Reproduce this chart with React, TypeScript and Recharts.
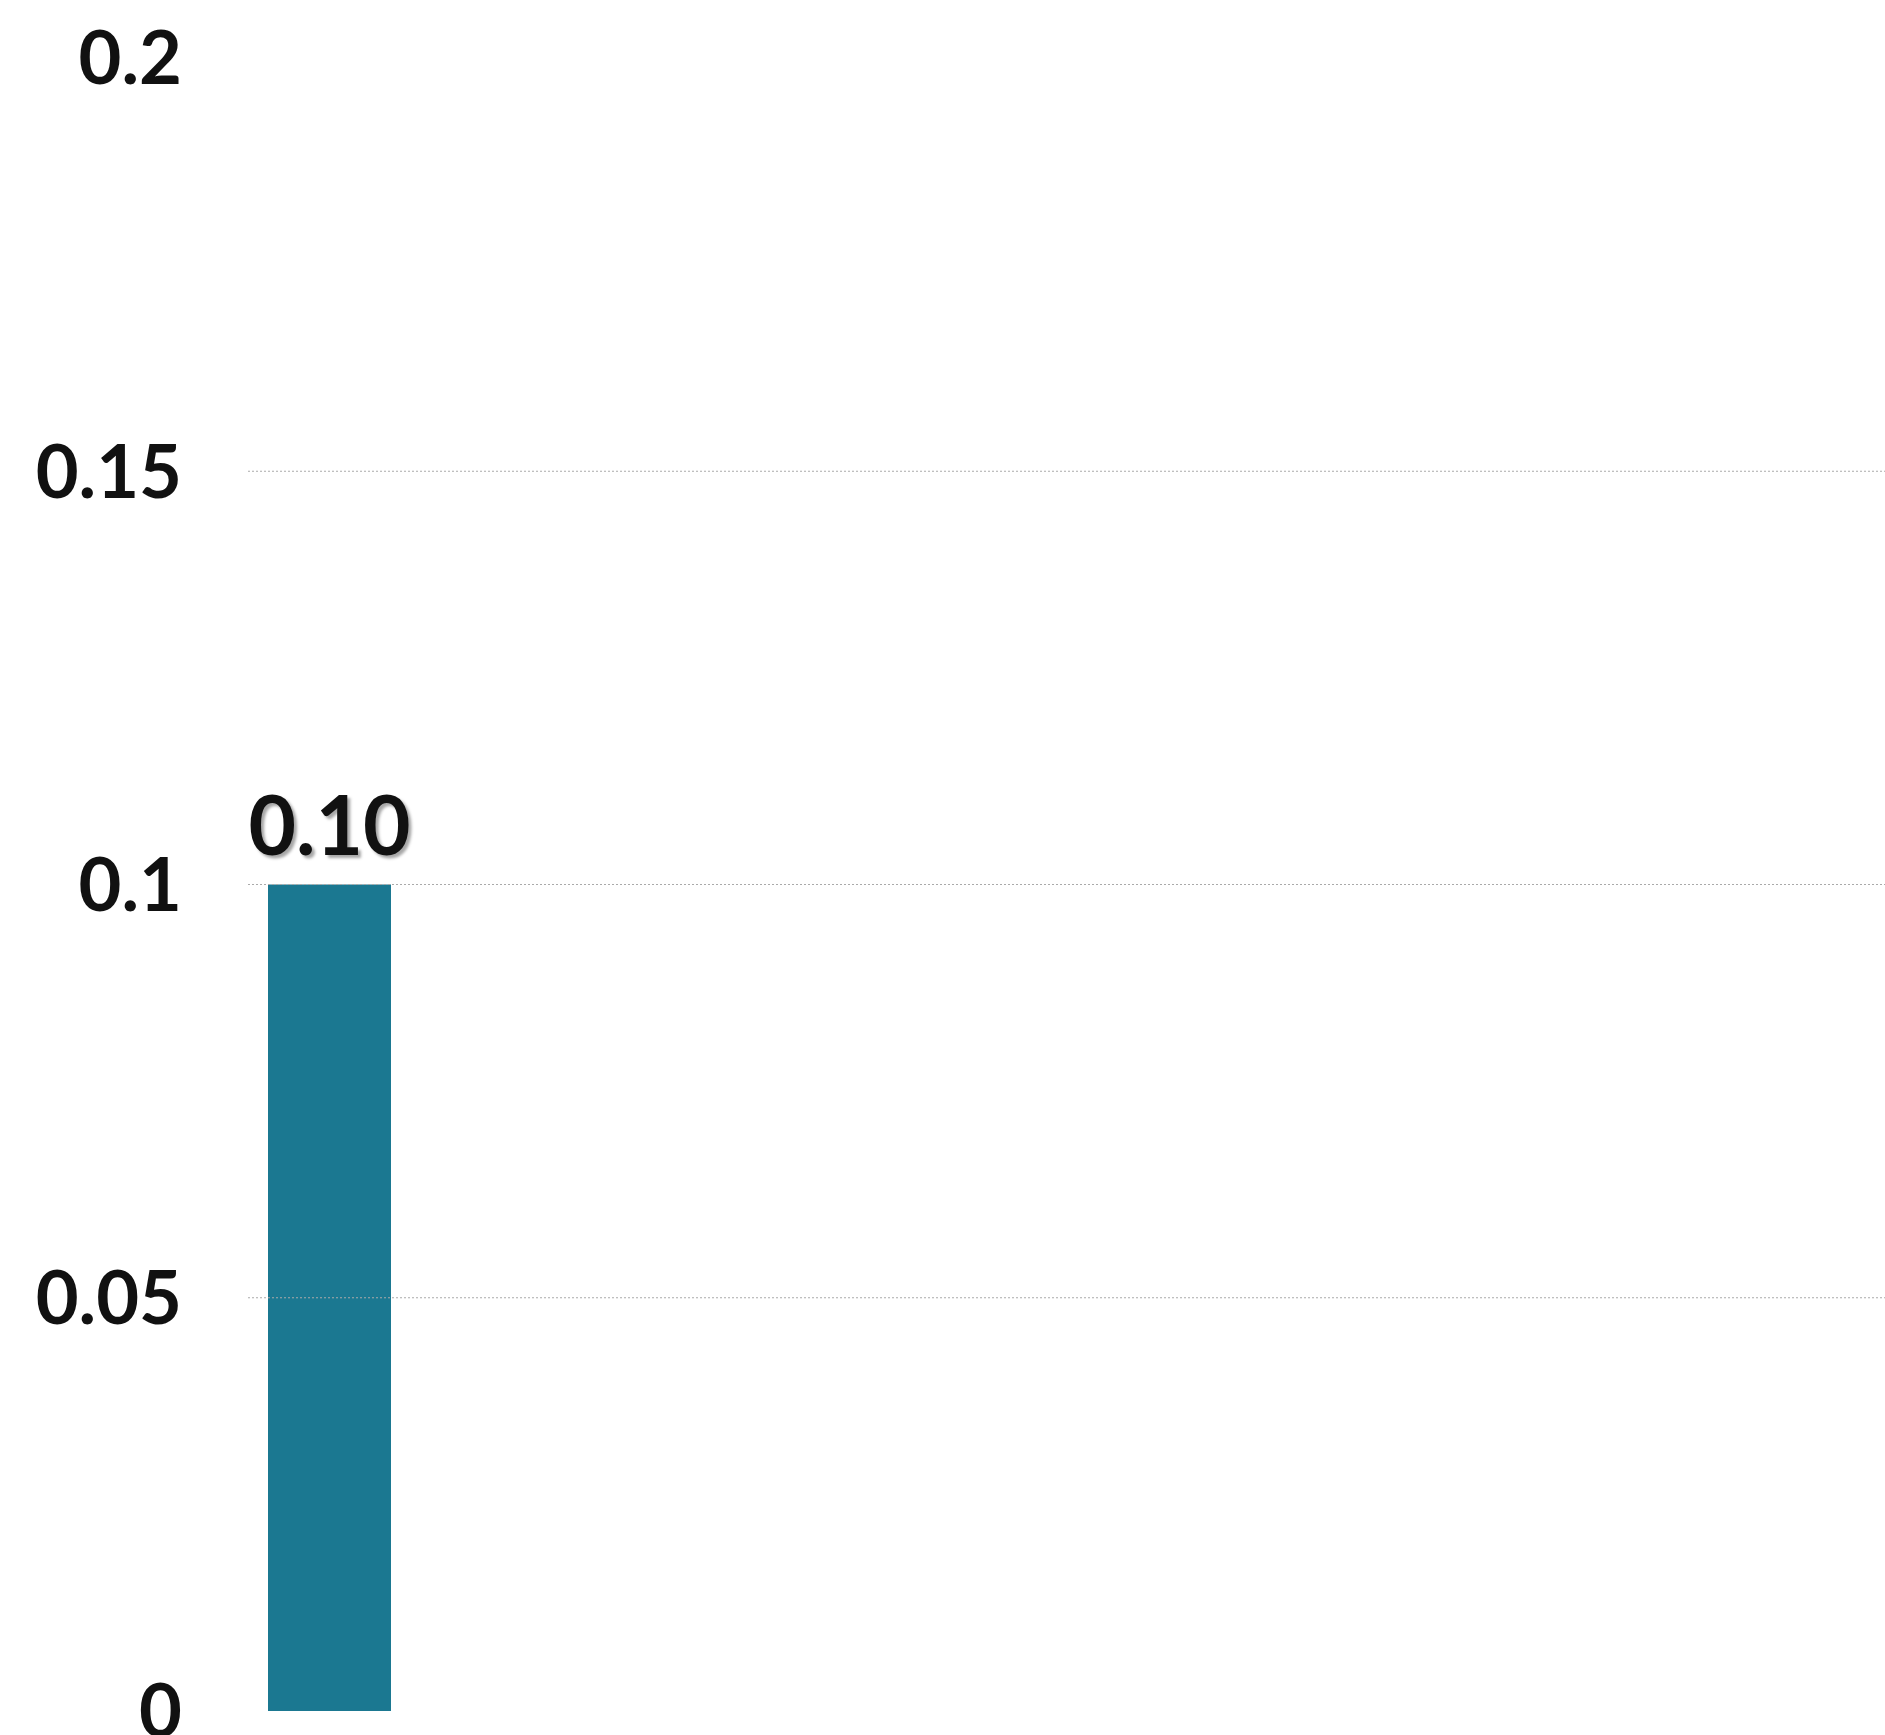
import { BarChart, Bar, XAxis, YAxis, ReferenceLine, LabelList } from 'recharts'

const categories = ['c1', 'c2', 'c3', 'c4', 'c5', 'c6', 'c7', 'c8', 'c9', 'c10']
const values: (number | null)[] = [0.1, null, null, null, null, null, null, null, null, null]
const yTicks = [0, 0.05, 0.1, 0.15, 0.2]
const gridValues = [0.05, 0.1, 0.15]

const data = categories.map((name, i) => ({ name, value: values[i] }))

export default function App() {
  return (
    <div style={{ position: 'absolute', top: 0, left: 0, background: '#fff', fontFamily: 'Lato, sans-serif' }}>
      <BarChart width={1885} height={1735} data={data} margin={{ top: 58, right: 0, bottom: 24, left: 0 }} barSize={123}>
        <XAxis dataKey="name" hide />
        <YAxis
          width={248}
          domain={[0, 0.2]}
          ticks={yTicks}
          interval={0}
          axisLine={false}
          tickLine={false}
          tickMargin={60}
          tick={{ fontSize: 74, fontWeight: 700, fill: '#111', fontFamily: 'Lato, sans-serif' }}
          tickFormatter={(v) => String(v)}
        />
        {gridValues.map((v) => (
          <ReferenceLine key={v} y={v} stroke="#aaa" strokeDasharray="2 2" />
        ))}
        <Bar dataKey="value" fill="#1b7891" isAnimationActive={false}>
          <LabelList
            dataKey="value"
            position="top"
            offset={30}
            formatter={(v: any) => (typeof v === 'number' ? v.toFixed(2) : '')}
            style={{ fontSize: 82, fontWeight: 700, fill: '#111', fontFamily: 'Lato, sans-serif', textShadow: '3px 3px 3px rgba(0,0,0,0.35)' }}
          />
        </Bar>
      </BarChart>
    </div>
  )
}
